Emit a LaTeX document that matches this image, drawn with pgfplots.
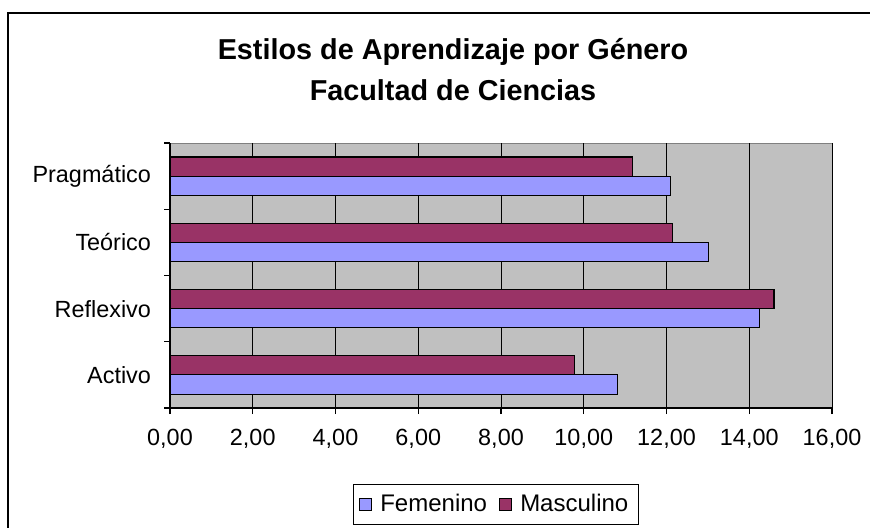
\documentclass[border=0pt]{standalone}
\usepackage{fontspec}
\setmainfont{Liberation Sans}
\usepackage{pgfplots}
\pgfplotsset{compat=1.18}
\definecolor{fem}{HTML}{9999FF}
\definecolor{masc}{HTML}{993366}
\definecolor{plotbg}{HTML}{C0C0C0}
\begin{document}
\begin{tikzpicture}
\useasboundingbox (0pt,0pt) rectangle (435pt,263.5pt);
% chart frame (cut off at right and bottom)
\draw[line width=1pt] (4pt,-5pt) -- (4pt,257pt) -- (440pt,257pt);
\node[font=\bfseries\fontsize{14.4}{17}\selectfont] at (226.5pt,237.5pt) {Estilos de Aprendizaje por Género};
\node[font=\bfseries\fontsize{14.4}{17}\selectfont] at (226.5pt,218.5pt) {Facultad de Ciencias};
\begin{axis}[
  at={(85pt,59.5pt)}, anchor=south west,
  width=331pt, height=132.5pt, scale only axis,
  xbar,
  xmin=0, xmax=16,
  xtick={0,2,...,16},
  ymin=-0.5, ymax=3.5,
  ytick={0,1,2,3},
  yticklabels={Activo,Reflexivo,Teórico,Pragmático},
  minor ytick={-0.5,0.5,1.5,2.5,3.5},
  axis lines*=left,
  axis line style={-, black, line width=0.6pt},
  axis background/.style={fill=plotbg, draw=gray},
  tick align=outside,
  major tick length=3pt, minor tick length=3pt,
  major y tick style={draw=none},
  minor y tick style={draw=black, line width=0.6pt},
  xtick style={black, line width=0.6pt},
  xmajorgrids,
  major grid style={black, line width=0.5pt},
  ticklabel style={font=\fontsize{11.7}{13}\selectfont},
  xticklabel style={yshift=-4pt},
  yticklabel style={xshift=-3pt},
  /pgf/number format/.cd, fixed, fixed zerofill, precision=2, use comma, assume math mode=true,
  /pgfplots/.cd,
  legend style={at={(0.492,-0.285)}, anchor=north, legend columns=2, draw=black,
    font=\fontsize{12}{14}\selectfont, inner xsep=3pt, inner ysep=3pt,
    /tikz/every even column/.append style={column sep=4pt},
    /tikz/every odd column/.append style={column sep=2pt}},
  legend image code/.code={\draw[#1] (0pt,-3pt) rectangle (6pt,3pt);},
]
\addplot[fill=fem, draw=black, line width=0.6pt, bar width=0.29, bar shift=-0.145]
  coordinates {(10.82,0) (14.25,1) (13.02,2) (12.10,3)};
\addplot[fill=masc, draw=black, line width=0.6pt, bar width=0.29, bar shift=0.145]
  coordinates {(9.78,0) (14.60,1) (12.15,2) (11.18,3)};
\legend{Femenino,Masculino}
\end{axis}
\end{tikzpicture}
\end{document}
